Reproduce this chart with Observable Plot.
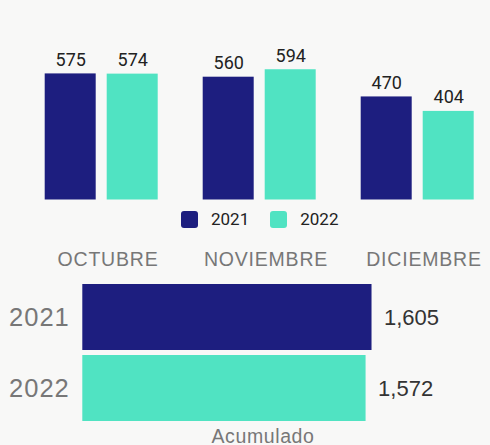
<!DOCTYPE html>
<html><head><meta charset="utf-8">
<script src="https://cdn.jsdelivr.net/npm/d3@7"></script>
<script src="https://cdn.jsdelivr.net/npm/@observablehq/plot@0.6"></script>
<style>
html,body{margin:0;padding:0;background:#f8f8f7;}
#wrap{position:relative;width:490px;height:445px;overflow:hidden;}
#wrap svg{display:block;}
.legend{position:absolute;left:181px;top:211px;display:flex;align-items:center;font-family:Roboto,sans-serif;font-size:17px;color:#222;line-height:17px;}
.item{display:flex;align-items:center;margin-right:21px;}
.sw{width:17px;height:17px;border-radius:3px;display:inline-block;margin-right:13px;}
</style></head><body><div id="wrap"></div>
<script>
const months = ["OCTUBRE", "NOVIEMBRE", "DICIEMBRE"];
const years = ["2021", "2022"];
const values2021 = [575, 560, 470];
const values2022 = [574, 594, 404];
const totals = [1605, 1572];
const colors = ["#1d1e7f", "#50e3c2"];
const totalLabel = "Acumulado";

const monthly = months.flatMap((m, i) => [
  {month: m, year: years[0], value: values2021[i]},
  {month: m, year: years[1], value: values2022[i]}
]);
const cum = years.map((y, i) => ({year: y, total: totals[i]}));
const colorScale = {domain: years, range: colors};
const fmt = d3.format(",");

const chartTop = Plot.plot({
  width: 490, height: 275,
  marginTop: 46, marginBottom: 75.5, marginLeft: 43.3, marginRight: 14.4,
  style: {background: "transparent"},
  fx: {domain: months, paddingInner: 0.27, paddingOuter: 0, axis: null},
  x: {domain: years, paddingInner: 0.17, paddingOuter: 0, axis: null},
  y: {domain: [0, 700], axis: null},
  color: colorScale,
  marks: [
    Plot.barY(monthly, {fx: "month", x: "year", y: "value", fill: "year"}),
    Plot.text(monthly, {fx: "month", x: "year", y: "value", text: d => String(d.value),
      lineAnchor: "bottom", dy: -8, fontSize: 18, fill: "#222", fontFamily: "Roboto, sans-serif"}),
    Plot.text(months, {fx: d => d, text: d => d, frameAnchor: "bottom", dy: 66, dx: 6,
      fontSize: 19.5, fill: "#777", fontFamily: "Liberation Sans, Arial, sans-serif"})
  ]
});
d3.select(chartTop).selectAll("text").filter(function() { return months.includes(this.textContent); })
  .style("letter-spacing", "0.8px");

const chartBottom = Plot.plot({
  width: 490, height: 170,
  marginTop: 9.3, marginBottom: 24, marginLeft: 82.3, marginRight: 47.3,
  style: {background: "transparent"},
  x: {domain: [0, 2000], axis: null},
  y: {domain: years, paddingInner: 0.075, paddingOuter: 0, axis: null},
  color: colorScale,
  marks: [
    Plot.barX(cum, {x: "total", y: "year", fill: "year"}),
    Plot.text(cum, {x: "total", y: "year", text: d => fmt(d.total), textAnchor: "start", dx: 12,
      fontSize: 22, fill: "#333", fontFamily: "Liberation Sans, Arial, sans-serif"}),
    Plot.text(cum, {y: "year", text: "year", frameAnchor: "left", textAnchor: "end", dx: -13,
      fontSize: 25.5, fill: "#777", fontFamily: "Liberation Sans, Arial, sans-serif"}),
    Plot.text([totalLabel], {frameAnchor: "bottom", dy: 21, text: d => d,
      fontSize: 19.5, fill: "#777", fontFamily: "Liberation Sans, Arial, sans-serif"})
  ]
});
d3.select(chartBottom).selectAll("text").filter(function() { return this.textContent === totalLabel; })
  .style("letter-spacing", "0.6px");
d3.select(chartBottom).selectAll("text").filter(function() { return years.includes(this.textContent); })
  .style("letter-spacing", "1px");

const wrap = document.getElementById("wrap");
wrap.appendChild(chartTop);
wrap.appendChild(chartBottom);

const legend = document.createElement("div");
legend.className = "legend";
years.forEach((y, i) => {
  const item = document.createElement("div");
  item.className = "item";
  const sw = document.createElement("span");
  sw.className = "sw";
  sw.style.background = colors[i];
  const t = document.createElement("span");
  t.textContent = y;
  item.appendChild(sw);
  item.appendChild(t);
  legend.appendChild(item);
});
wrap.appendChild(legend);
</script>
</body></html>
